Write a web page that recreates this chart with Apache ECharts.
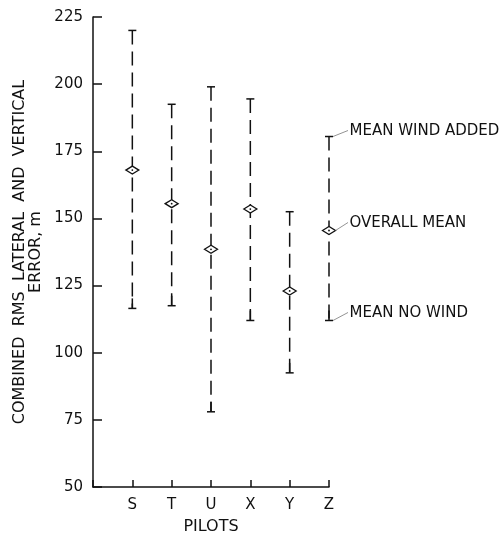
<!DOCTYPE html>
<html>
<head>
<meta charset="utf-8">
<script src="https://cdn.jsdelivr.net/npm/echarts@6/dist/echarts.min.js"></script>
<style>
html,body{margin:0;padding:0;background:#fff;}
#chart{width:504px;height:533px;}
</style>
</head>
<body>
<div id="chart"></div>
<script>
// ---- data ----
const pilots = ['S', 'T', 'U', 'X', 'Y', 'Z'];
const highValues = [220, 192.5, 199, 194.5, 152.5, 180.5];
const meanValues = [168, 155.5, 138.5, 153.5, 123, 145.5];
const lowValues  = [116.5, 117.5, 78, 112, 92.5, 112];
const yTicks = [50, 75, 100, 125, 150, 175, 200, 225];
const annotationLabels = ['MEAN WIND ADDED', 'OVERALL MEAN', 'MEAN NO WIND'];
const annotationKeys = ['high', 'mean', 'low'];

const FONT = 'DejaVu Sans';
const INK = '#111';

const barData = pilots.map((p, i) => [i + 1, lowValues[i], meanValues[i], highValues[i]]);

const zIndex = pilots.indexOf('Z');
const zLookup = { high: highValues[zIndex], mean: meanValues[zIndex], low: lowValues[zIndex] };
const annData = annotationLabels.map((t, i) => [zIndex + 1, zLookup[annotationKeys[i]], t, annotationKeys[i]]);

function renderBar(params, api) {
  const x = api.value(0);
  const lo = api.coord([x, api.value(1)]);
  const me = api.coord([x, api.value(2)]);
  const hi = api.coord([x, api.value(3)]);
  const cx = lo[0];
  const capW = 4;
  const dw = 6.5, dh = 4;
  return {
    type: 'group',
    children: [
      { type: 'line', shape: { x1: cx, y1: hi[1], x2: cx, y2: lo[1] },
        style: { stroke: INK, lineWidth: 1.5, lineDash: [14, 7] } },
      { type: 'line', shape: { x1: cx, y1: lo[1], x2: cx, y2: lo[1] - 10 },
        style: { stroke: INK, lineWidth: 1.5 } },
      { type: 'line', shape: { x1: cx - capW, y1: hi[1], x2: cx + capW, y2: hi[1] },
        style: { stroke: INK, lineWidth: 1.5 } },
      { type: 'line', shape: { x1: cx - capW, y1: lo[1], x2: cx + capW, y2: lo[1] },
        style: { stroke: INK, lineWidth: 1.5 } },
      { type: 'polygon', shape: { points: [[cx - dw, me[1]], [cx, me[1] - dh], [cx + dw, me[1]], [cx, me[1] + dh]] },
        style: { fill: '#fff', stroke: INK, lineWidth: 1.3 } },
      { type: 'circle', shape: { cx: cx, cy: me[1], r: 0.9 }, style: { fill: INK } }
    ]
  };
}

function renderAnn(params, api) {
  const p = api.coord([api.value(0), api.value(1)]);
  const key = annData[params.dataIndex][3];
  const label = annData[params.dataIndex][2];
  const startX = p[0] + (key === 'mean' ? 6.5 : 4);
  const endX = p[0] + 19;
  const ty = p[1] - (key === 'high' ? 5 : 7);
  return {
    type: 'group',
    children: [
      { type: 'line', shape: { x1: startX, y1: p[1], x2: endX, y2: ty - 1 },
        style: { stroke: '#777', lineWidth: 0.8 } },
      { type: 'text', style: { x: endX + 1.5, y: ty, text: label, fill: INK,
        font: '15px "' + FONT + '"', textAlign: 'left', textVerticalAlign: 'middle' } }
    ]
  };
}

const chart = echarts.init(document.getElementById('chart'), null, { renderer: 'canvas' });
chart.setOption({
  animation: false,
  backgroundColor: '#fff',
  grid: { left: 93, right: 175, top: 17, bottom: 46, containLabel: false, outerBoundsMode: 'none' },
  xAxis: {
    type: 'value', min: 0, max: pilots.length, interval: 1,
    name: 'PILOTS', nameLocation: 'middle', nameGap: 32,
    nameTextStyle: { color: INK, fontSize: 16, fontFamily: FONT },
    axisLine: { lineStyle: { color: INK, width: 1.5 } },
    axisTick: { inside: true, length: 7, lineStyle: { color: INK, width: 1.5 } },
    axisLabel: { color: INK, fontSize: 15, fontFamily: FONT, margin: 11,
      formatter: v => (v >= 1 && v <= pilots.length) ? pilots[v - 1] : '' },
    splitLine: { show: false }
  },
  yAxis: {
    type: 'value', min: yTicks[0], max: yTicks[yTicks.length - 1], interval: 25,
    name: 'COMBINED  RMS  LATERAL  AND  VERTICAL\nERROR, m',
    nameLocation: 'middle', nameGap: 49,
    nameTextStyle: { color: INK, fontSize: 16, fontFamily: FONT, lineHeight: 16 },
    axisLine: { lineStyle: { color: INK, width: 1.5 } },
    axisTick: { inside: true, length: 9, lineStyle: { color: INK, width: 1.5 } },
    axisLabel: { color: INK, fontSize: 15, fontFamily: FONT, margin: 10 },
    splitLine: { show: false }
  },
  series: [
    { type: 'custom', renderItem: renderBar, data: barData, clip: false,
      encode: { x: 0, y: [1, 2, 3] } },
    { type: 'custom', renderItem: renderAnn, data: annData, clip: false,
      encode: { x: 0, y: 1 } }
  ]
});
</script>
</body>
</html>
